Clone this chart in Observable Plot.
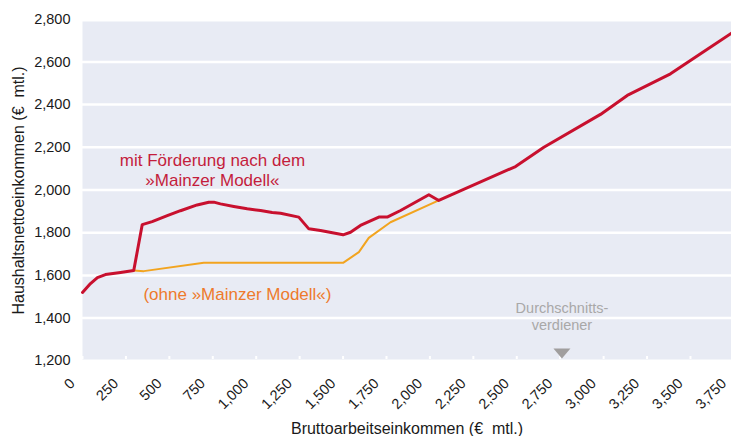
<!DOCTYPE html>
<html><head><meta charset="utf-8">
<script src="https://cdn.jsdelivr.net/npm/d3@7"></script>
<script src="https://cdn.jsdelivr.net/npm/@observablehq/plot@0.6"></script>
<style>
body{margin:0;background:#fff;}
svg{display:block;font-family:"Liberation Sans",Arial,sans-serif;}
</style>
</head><body><div id="chart"></div>
<script>
// Bruttoarbeitseinkommen (x) and Haushaltsnettoeinkommen (y), € monthly
const mitX = [0, 46, 86, 132, 219, 295, 344, 401, 488, 564, 660, 727, 756, 794, 871, 948, 1025, 1092, 1140, 1245, 1303, 1370, 1500, 1543, 1600, 1706, 1754, 1831, 1994, 2051, 2493, 2656, 2982, 3136, 3385, 3558, 3750];
const mitY = [1520, 1562, 1590, 1604, 1614, 1623, 1838, 1852, 1880, 1903, 1930, 1943, 1943, 1935, 1923, 1912, 1904, 1895, 1891, 1873, 1818, 1810, 1790, 1802, 1834, 1873, 1873, 1904, 1978, 1951, 2110, 2200, 2354, 2443, 2544, 2638, 2742];
const ohneX = [295, 353, 698, 1500, 1591, 1648, 1773, 2051];
const ohneY = [1623, 1620, 1659, 1659, 1709, 1776, 1849, 1951];

const xTicks = [0, 250, 500, 750, 1000, 1250, 1500, 1750, 2000, 2250, 2500, 2750, 3000, 3250, 3500, 3750];
const yTicks = [1200, 1400, 1600, 1800, 2000, 2200, 2400, 2600, 2800];
const gridTicks = [1400, 1600, 1800, 2000, 2200, 2400, 2600];

const xTitle = "Bruttoarbeitseinkommen (€\u00a0 mtl.)";
const yTitle = "Haushaltsnettoeinkommen (€\u00a0 mtl.)";
const mitLabel = "mit Förderung nach dem\n»Mainzer Modell«";
const ohneLabel = "(ohne »Mainzer Modell«)";
const avgLabel = "Durchschnitts-\nverdiener";
const avgX = 2760;

const mit = mitX.map((x, i) => ({x, y: mitY[i]}));
const ohne = ohneX.map((x, i) => ({x, y: ohneY[i]}));
const fmt = d3.format(",");

const downTri = {draw(ctx) { ctx.moveTo(-8.5, -5); ctx.lineTo(8.5, -5); ctx.lineTo(0, 5); ctx.closePath(); }};

const chart = Plot.plot({
  width: 731, height: 436,
  marginLeft: 82, marginRight: 0, marginTop: 21, marginBottom: 77,
  style: {fontFamily: "'Liberation Sans', Arial, sans-serif", background: "white"},
  x: {domain: [0, 3750], range: [82, 733.4], axis: null},
  y: {domain: [1200, 2800], range: [360.3, 18.7], axis: null},
  marks: [
    Plot.frame({fill: "#e8ebf4", stroke: null}),
    Plot.ruleY(gridTicks, {stroke: "white", strokeWidth: 2.5}),
    Plot.axisX(xTicks, {tickSize: -3, stroke: "white", strokeWidth: 2, tickFormat: () => "", label: null}),
    Plot.axisY(yTicks, {tickSize: 0, tickPadding: 12, fontSize: 14.5, fill: "#1a1a1a", tickFormat: fmt, label: null}),
    Plot.text(xTicks, {x: d => d, frameAnchor: "bottom", text: d => fmt(d), rotate: -45, textAnchor: "end", lineAnchor: "middle", dx: -10, dy: 21.5, fontSize: 14.5, fill: "#1a1a1a"}),
    Plot.text([xTitle], {frameAnchor: "bottom", dy: 69, text: d => d, fontSize: 16, fill: "#1a1a1a", textAnchor: "middle", lineAnchor: "middle"}),
    Plot.text([yTitle], {frameAnchor: "left", dx: -64, rotate: -90, text: d => d, fontSize: 16, fill: "#1a1a1a", textAnchor: "middle", lineAnchor: "middle"}),
    Plot.line(ohne, {x: "x", y: "y", stroke: "#f2a41f", strokeWidth: 2, strokeLinejoin: "round"}),
    Plot.line(mit, {x: "x", y: "y", stroke: "#c8102e", strokeWidth: 3, strokeLinejoin: "round"}),
    Plot.text([mitLabel], {x: 748, y: 2019, text: d => d, lineAnchor: "bottom", lineHeight: 1.2, fontSize: 17, fill: "#c41d3c"}),
    Plot.text([ohneLabel], {x: 892, y: 1485, text: d => d, lineAnchor: "bottom", fontSize: 17, fill: "#ee7a2c"}),
    Plot.text([avgLabel], {x: avgX, y: 1342, text: d => d, lineAnchor: "bottom", lineHeight: 1.22, fontSize: 14.5, fill: "#a8a8a8"}),
    Plot.dot([avgX], {x: d => d, frameAnchor: "bottom", dy: -6, symbol: downTri, fill: "#a09e9e", stroke: null})
  ]
});
document.getElementById("chart").appendChild(chart);
</script>
</body></html>
